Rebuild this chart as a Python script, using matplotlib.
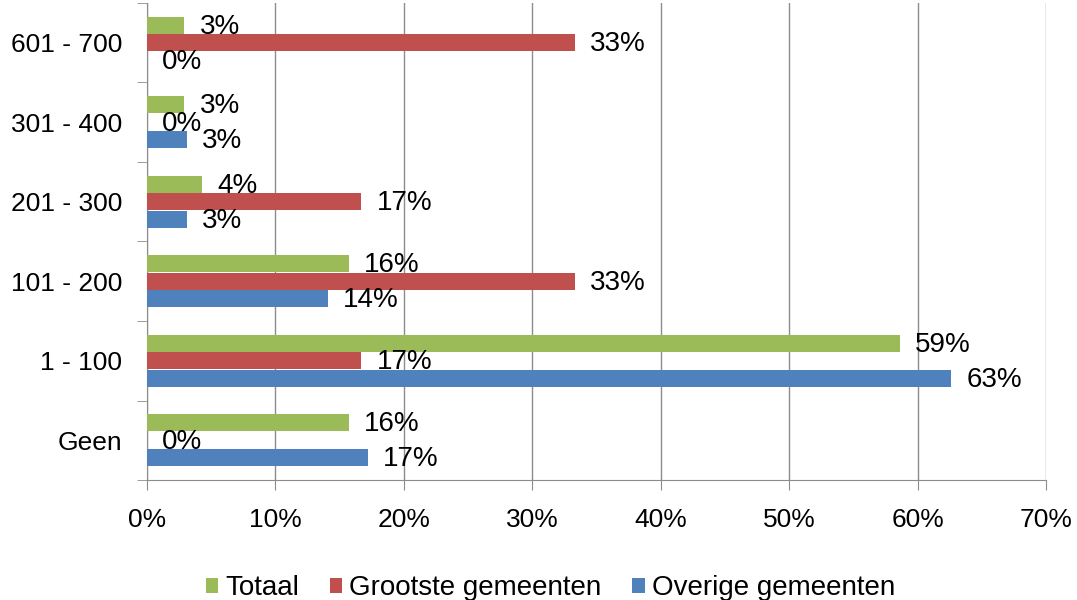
import numpy as np
import matplotlib.pyplot as plt
from matplotlib.ticker import FixedLocator, PercentFormatter

plt.rcParams['font.family'] = ['Liberation Sans', 'DejaVu Sans']

# Data (percent), bottom to top
categories = ['Geen', '1 - 100', '101 - 200', '201 - 300', '301 - 400', '601 - 700']
totaal = [15.7, 58.6, 15.7, 4.3, 2.9, 2.9]
grootste = [0.0, 16.7, 33.3, 16.7, 0.0, 33.3]
overige = [17.2, 62.6, 14.1, 3.1, 3.1, 0.0]

series = [
    ('Totaal', totaal, '#9BBB59', 0.22),
    ('Grootste gemeenten', grootste, '#C0504D', 0.0),
    ('Overige gemeenten', overige, '#4F81BD', -0.22),
]

fig = plt.figure(figsize=(10.77, 6), dpi=100)
ax = fig.add_axes([147 / 1077, 0.2, (1046 - 147) / 1077, 0.795])

y = np.arange(len(categories))
bh = 0.215
for name, vals, col, off in series:
    bars = ax.barh(y + off, vals, height=bh, color=col, label=name, zorder=3)
    for b, v in zip(bars, vals):
        ax.annotate(f'{v:.0f}%', xy=(v, b.get_y() + b.get_height() / 2),
                    xytext=(11, -1), textcoords='offset points',
                    ha='left', va='center', fontsize=20, zorder=4)

ax.set_xlim(0, 70)
ax.set_ylim(-0.5, len(categories) - 0.5)
ax.set_xticks(np.arange(0, 71, 10))
ax.xaxis.set_major_formatter(PercentFormatter(decimals=0))
ax.set_yticks(y)
ax.set_yticklabels(categories)
ax.yaxis.set_minor_locator(FixedLocator(np.arange(-0.5, len(categories), 1.0)))

ax.grid(axis='x', color='#8C8C8C', linewidth=1, zorder=0)
ax.set_axisbelow(True)
for s in ['top', 'right']:
    ax.spines[s].set_visible(False)
for s in ['left', 'bottom']:
    ax.spines[s].set_color('#8C8C8C')

ax.tick_params(axis='x', which='major', length=7, color='#8C8C8C', labelsize=19, pad=13)
ax.tick_params(axis='y', which='major', length=0, labelsize=19, pad=18)
ax.tick_params(axis='y', which='minor', length=7, color='#8C8C8C')

fig.legend(loc='center', bbox_to_anchor=(0.511, 0.02), ncol=3, frameon=False,
           fontsize=20, handlelength=0.45, handleheight=0.45, handletextpad=0.25,
           columnspacing=1.1)

plt.savefig('out.png', dpi=100)
